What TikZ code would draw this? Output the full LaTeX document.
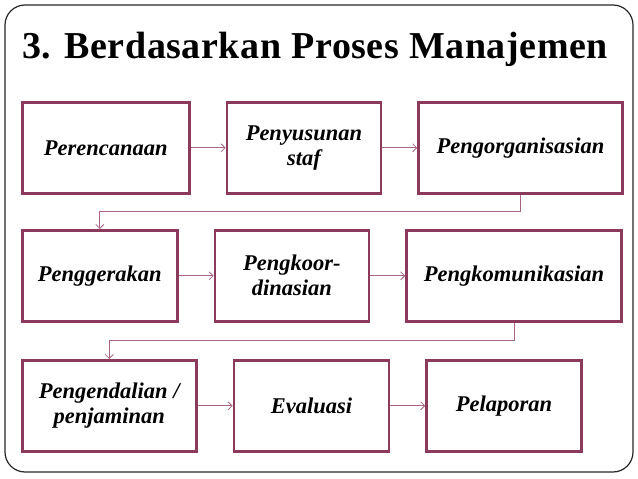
\documentclass[tikz,border=0pt]{standalone}
\usepackage{fontspec}
\setmainfont{Liberation Serif}
\newfontfamily\titlefont[LetterSpace=1.5]{Liberation Serif}
\usepackage{tikz}
\usetikzlibrary{positioning, arrows.meta, shadows}

\definecolor{boxline}{RGB}{140,58,92}
\definecolor{arrline}{RGB}{168,100,130}

\begin{document}
\begin{tikzpicture}[x=1pt, y=-1pt, node distance=35pt,
    stepbox/.style={draw=boxline, line width=2.6pt, fill=white, align=center,
        minimum height=91pt, inner sep=2pt,
        font=\fontsize{22.5}{25}\selectfont\bfseries\itshape,
        drop shadow={shadow xshift=1.5pt, shadow yshift=-1.8pt, opacity=.35}},
    flow/.style={draw=arrline, line width=0.8pt, -{Straight Barb[length=4pt, width=8pt]}}]
    \useasboundingbox (0,0) rectangle (638,479);
    \draw[line width=1.2pt, rounded corners=20pt, draw=black!85] (5,5) rectangle (633,472);
    \node[font=\titlefont\bfseries\fontsize{38}{43}\selectfont, anchor=base] (title) at (315,58) {3. Berdasarkan Proses Manajemen};

    % baris pertama
    \node[stepbox, minimum width=167pt, anchor=north west] (renc) at (21,101) {Perencanaan};
    \node[stepbox, minimum width=154pt, right=of renc] (staf) {Penyusunan\\staf};
    \node[stepbox, minimum width=204pt, right=of staf] (orga) {Pengorganisasian};

    % baris kedua
    \node[stepbox, minimum width=155pt, anchor=north west] (gerak) at (21,229) {Penggerakan};
    \node[stepbox, minimum width=154pt, right=of gerak] (koor) {Pengkoor-\\dinasian};
    \node[stepbox, minimum width=215pt, right=of koor] (komu) {Pengkomunikasian};

    % baris ketiga
    \node[stepbox, minimum width=174pt, anchor=north west] (kendali) at (21,359) {Pengendalian /\\penjaminan};
    \node[stepbox, minimum width=155pt, right=of kendali] (eval) {Evaluasi};
    \node[stepbox, minimum width=155pt, right=of eval] (lapor) {Pelaporan};

    \draw[flow] (renc) -- (staf);
    \draw[flow] (staf) -- (orga);
    \draw[flow] (orga.south) -- ++(0,17) -| (gerak.north);
    \draw[flow] (gerak) -- (koor);
    \draw[flow] (koor) -- (komu);
    \draw[flow] (komu.south) -- ++(0,18) -| (kendali.north);
    \draw[flow] (kendali) -- (eval);
    \draw[flow] (eval) -- (lapor);
\end{tikzpicture}
\end{document}
